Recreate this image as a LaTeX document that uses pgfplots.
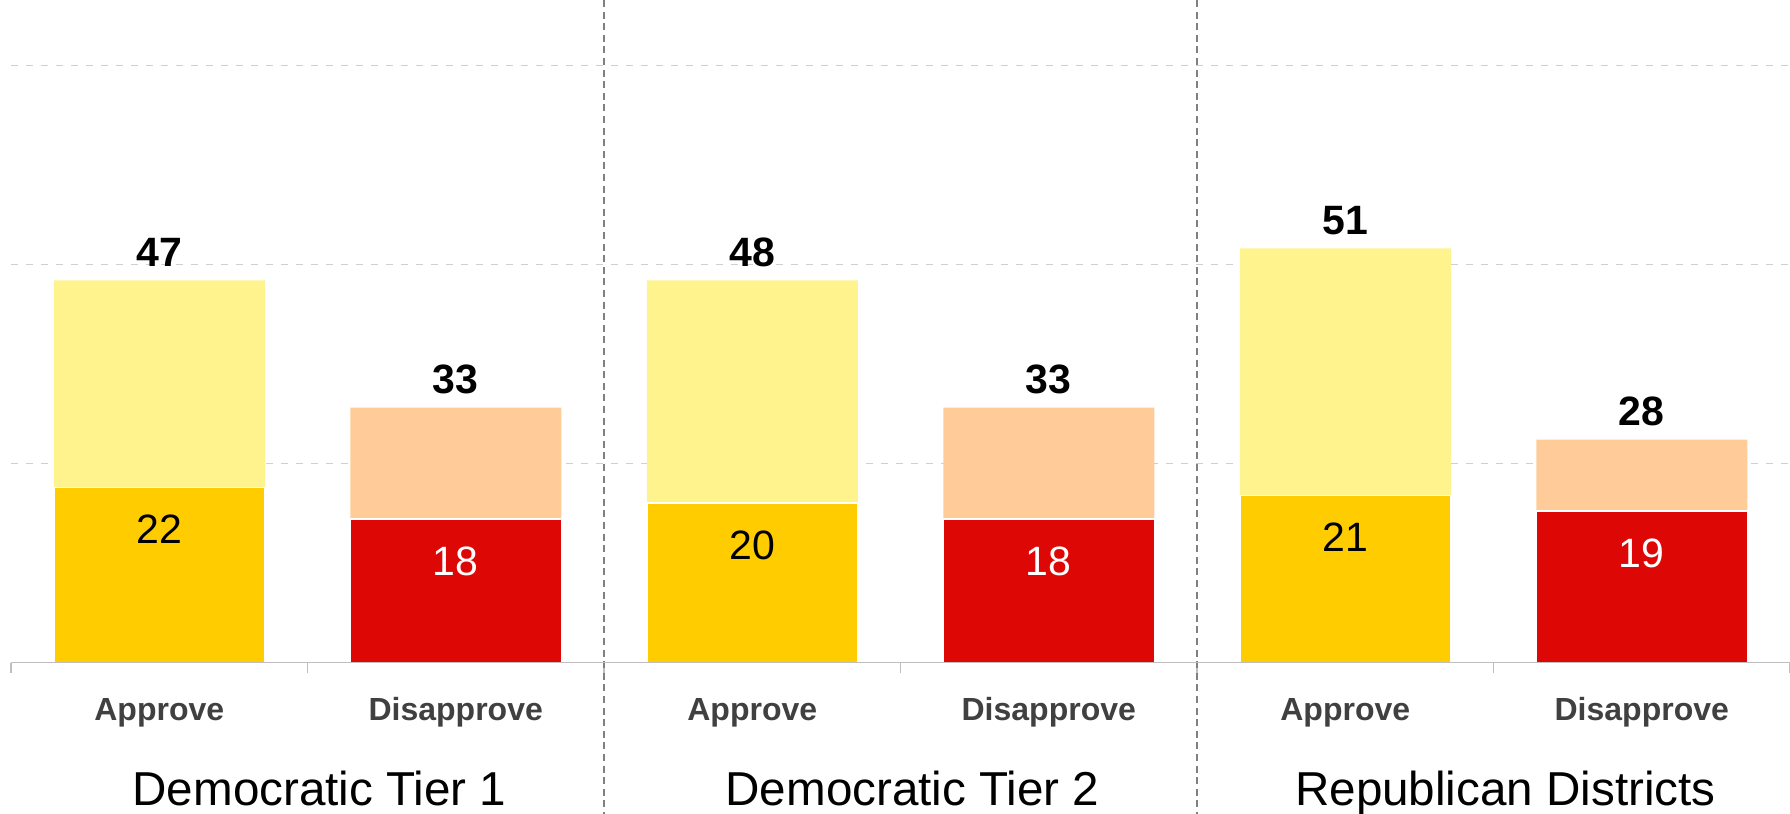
\documentclass[border=0pt]{standalone}
\usepackage{pgfplots}
\pgfplotsset{compat=1.18}
\usepackage{pgfplotstable}
\usepackage{fontspec}
\setmainfont{Liberation Sans}
\definecolor{aplight}{HTML}{FFF38D}
\definecolor{apdark}{HTML}{FFCC00}
\definecolor{dislight}{HTML}{FFCC99}
\definecolor{disdark}{HTML}{DD0806}
\definecolor{gridc}{HTML}{CFCFCF}
\definecolor{sepc}{HTML}{808080}
\definecolor{axc}{HTML}{BFBFBF}
\definecolor{labc}{HTML}{404040}

\pgfplotstableread{
x total dark label
0 48 22 47
2 48 20 48
4 52 21 51
}\approvetab
\pgfplotstableread{
x total dark label
1 32 18 33
3 32 18 33
5 28 19 28
}\disapprovetab

\begin{document}
\begin{tikzpicture}
\path[use as bounding box] (-5.5pt,-75.75pt) rectangle (889.5pt,331.25pt);
\begin{axis}[
  at={(0,0)}, anchor=south west,
  scale only axis, width=889.5pt, height=331.25pt,
  xmin=-0.5, xmax=5.5, ymin=0, ymax=83.2,
  clip=false,
  axis x line*=bottom, axis y line*=left,
  y axis line style={draw=none},
  x axis line style={draw=axc, line width=0.75pt, -},
  major tick length=0pt,
  tick style={draw=axc, line width=0.75pt},
  ytick={25,50,75}, yticklabels={},
  ymajorgrids,
  major grid style={draw=gridc, line width=0.75pt, dash pattern=on 3.5pt off 4pt},
  xtick={0,...,5},
  xticklabels={Approve,Disapprove,Approve,Disapprove,Approve,Disapprove},
  xticklabel style={anchor=base, yshift=-29pt, font=\fontsize{16}{16}\selectfont\bfseries, text=labc},
  extra x ticks={-0.5,0.5,1.5,2.5,3.5,4.5,5.5}, extra x tick labels={},
  extra x tick style={major tick length=5pt, tick align=outside, grid=none},
]
% totals (light)
\addplot[ybar, bar shift=0pt, bar width=105.5pt, fill=aplight, draw=none,
  point meta=explicit symbolic, nodes near coords,
  every node near coord/.append style={font=\fontsize{20.5}{20.5}\selectfont\bfseries, text=black, anchor=base, inner sep=0pt, yshift=7pt}]
  table[x=x,y=total,meta=label]{\approvetab};
\addplot[ybar, bar shift=0pt, bar width=105.5pt, fill=dislight, draw=none,
  point meta=explicit symbolic, nodes near coords,
  every node near coord/.append style={font=\fontsize{20.5}{20.5}\selectfont\bfseries, text=black, anchor=base, inner sep=0pt, yshift=7pt}]
  table[x=x,y=total,meta=label]{\disapprovetab};
% dark parts
\addplot[ybar, bar shift=0pt, bar width=105.5pt, fill=apdark, draw=white, line width=0.75pt,
  point meta=explicit symbolic, nodes near coords,
  every node near coord/.append style={font=\fontsize{20.5}{20.5}\selectfont, text=black, anchor=base, inner sep=0pt, yshift=-28pt}]
  table[x=x,y=dark,meta=dark]{\approvetab};
\addplot[ybar, bar shift=0pt, bar width=105.5pt, fill=disdark, draw=white, line width=0.75pt,
  point meta=explicit symbolic, nodes near coords,
  every node near coord/.append style={font=\fontsize{20.5}{20.5}\selectfont, text=white, anchor=base, inner sep=0pt, yshift=-28pt}]
  table[x=x,y=dark,meta=dark]{\disapprovetab};
% separators
\draw[sepc, line width=0.75pt, dash pattern=on 3.5pt off 2.3pt] (axis cs:1.5,83.2) -- ([yshift=-80pt]axis cs:1.5,0);
\draw[sepc, line width=0.75pt, dash pattern=on 3.5pt off 2.3pt] (axis cs:3.5,83.2) -- ([yshift=-80pt]axis cs:3.5,0);
\draw[axc, line width=0.75pt] (axis cs:-0.5,0) -- (axis cs:5.5,0);
% group labels
\node[font=\fontsize{23.8}{23.8}\selectfont, anchor=base] at ([xshift=6pt,yshift=-71.25pt]axis cs:0.5,0) {Democratic Tier 1};
\node[font=\fontsize{23.8}{23.8}\selectfont, anchor=base] at ([xshift=6pt,yshift=-71.25pt]axis cs:2.5,0) {Democratic Tier 2};
\node[font=\fontsize{23.8}{23.8}\selectfont, anchor=base] at ([xshift=6pt,yshift=-71.25pt]axis cs:4.5,0) {Republican Districts};
\end{axis}
\end{tikzpicture}
\end{document}
